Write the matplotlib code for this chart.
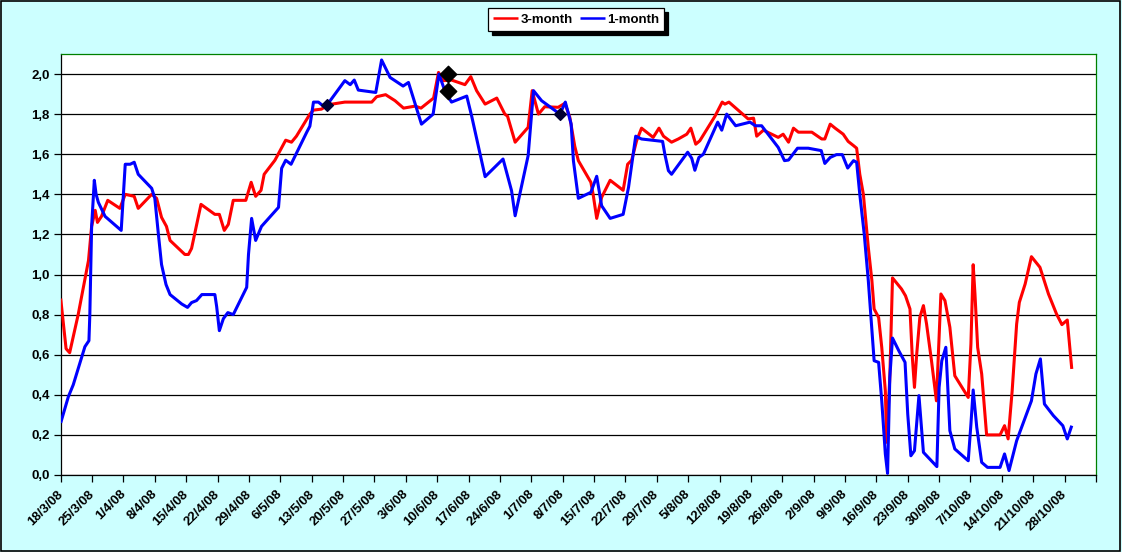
import matplotlib
matplotlib.use("Agg")
import matplotlib.pyplot as plt
from matplotlib.ticker import FuncFormatter
from matplotlib.patches import Rectangle
from matplotlib.transforms import ScaledTranslation

plt.rcParams['font.family'] = ['Liberation Sans', 'DejaVu Sans']
plt.rcParams['font.weight'] = 'bold'

# x values are days after 18/3/08
day_3m = [0.0, 1.2, 2.0, 3.9, 6.2, 6.9, 7.7, 8.2, 9.1, 10.5, 13.2, 14.4, 16.4, 17.3, 20.3,
          21.4, 22.5, 23.6, 24.4, 27.7, 28.5, 29.2, 31.3, 34.4, 35.4, 36.5, 37.4, 38.5, 41.3,
          42.5, 43.5, 44.7, 45.4, 47.8, 50.2, 51.5, 52.6, 55.6, 56.4, 58.2, 59.7, 63.4, 69.4,
          70.5, 72.5, 74.6, 76.5, 79.1, 80.4, 83.2, 84.3, 85.4, 87.2, 90.2, 91.5, 92.8, 94.7,
          97.3, 99.1, 99.7, 101.4, 104.3, 105.2, 106.6, 108.0, 111.0, 112.5, 113.6, 114.7,
          115.5, 118.3, 118.8, 119.6, 120.7, 122.6, 125.5, 126.5, 127.4, 128.5, 129.6, 132.2,
          133.5, 134.5, 136.3, 137.8, 139.7, 140.6, 141.7, 142.6, 146.0, 147.6, 148.2, 149.1,
          153.4, 154.6, 155.3, 156.8, 160.1, 161.2, 162.4, 163.5, 164.6, 167.6, 169.8, 170.5,
          171.7, 172.8, 174.6, 175.7, 176.9, 177.6, 178.3, 179.1, 180.2, 181.0, 181.5, 182.5,
          183.2, 184.0, 184.3, 185.0, 185.6, 187.6, 188.5, 189.5, 190.0, 190.5, 191.0, 191.7,
          192.5, 193.2, 194.3, 195.4, 196.4, 197.3, 198.4, 199.5, 202.5, 203.1, 203.6, 204.0,
          204.6, 205.5, 206.6, 209.6, 210.6, 211.4, 212.3, 213.3, 213.9, 215.2, 216.6, 218.5,
          220.4, 222.2, 223.4, 224.6, 225.6]
rate_3m = [0.88, 0.63, 0.61, 0.80, 1.07, 1.24, 1.32, 1.26, 1.29, 1.37, 1.33, 1.40, 1.39, 1.33, 1.40,
           1.38, 1.285, 1.24, 1.17, 1.10, 1.10, 1.13, 1.35, 1.30, 1.30, 1.22, 1.25, 1.37, 1.37,
           1.46, 1.39, 1.42, 1.50, 1.57, 1.67, 1.66, 1.69, 1.80, 1.82, 1.825, 1.847, 1.86, 1.86,
           1.887, 1.897, 1.867, 1.83, 1.84, 1.83, 1.88, 2.008, 1.967, 1.97, 1.947, 1.987, 1.917, 1.85,
           1.88, 1.80, 1.79, 1.66, 1.734, 1.917, 1.80, 1.837, 1.834, 1.854, 1.784, 1.64,
           1.568, 1.46, 1.40, 1.28, 1.385, 1.47, 1.42, 1.55, 1.57, 1.667, 1.73, 1.684,
           1.73, 1.69, 1.66, 1.676, 1.70, 1.73, 1.65, 1.667, 1.79, 1.86, 1.85, 1.86,
           1.776, 1.78, 1.69, 1.72, 1.684, 1.70, 1.66, 1.73, 1.71, 1.71, 1.676, 1.676,
           1.75, 1.73, 1.70, 1.664, 1.643, 1.63, 1.50, 1.40, 1.135, 0.97, 0.828, 0.786,
           0.637, 0.42, 0.163, 0.487, 0.983, 0.928, 0.894, 0.828, 0.595, 0.437, 0.603, 0.786,
           0.845, 0.753, 0.57, 0.37, 0.903, 0.87, 0.737, 0.495, 0.387, 0.653, 1.049, 0.903,
           0.637, 0.504, 0.20, 0.20, 0.246, 0.18, 0.42, 0.753, 0.861, 0.953, 1.089, 1.036,
           0.903, 0.803, 0.75, 0.773, 0.529]

day_1m = [0.0, 1.7, 2.8, 5.4, 6.3, 6.5, 6.9, 7.5, 7.9, 8.4, 9.9, 13.5, 14.4, 15.5, 16.4, 17.3,
          20.3, 21.0, 21.8, 22.5, 23.5, 24.4, 27.0, 28.3, 29.2, 30.3, 31.5, 34.4, 34.8, 35.4,
          36.3, 37.3, 38.5, 40.4, 41.5, 41.9, 42.6, 43.5, 44.8, 48.6, 49.3, 50.2, 51.4, 54.9,
          55.6, 56.4, 57.5, 58.6, 59.7, 63.4, 64.6, 65.5, 66.4, 70.3, 71.6, 73.5, 76.4, 77.6,
          80.5, 83.1, 84.4, 85.7, 87.2, 90.6, 91.7, 94.7, 98.7, 100.6, 101.4, 104.3, 105.5,
          107.3, 111.4, 112.6, 113.9, 114.4, 115.5, 118.3, 119.6, 120.7, 122.6, 125.5, 126.7,
          128.3, 129.6, 134.3, 134.8, 135.6, 136.3, 139.9, 140.8, 141.5, 142.4, 143.4, 146.6,
          147.5, 148.6, 150.6, 153.8, 155.0, 156.4, 160.1, 161.5, 162.4, 164.4, 166.8, 169.7,
          170.5, 171.7, 173.1, 174.4, 175.6, 176.9, 177.6, 178.3, 179.3, 180.2, 181.5, 182.5,
          183.2, 184.0, 184.5, 185.0, 185.6, 187.0, 188.4, 189.0, 189.7, 190.5, 191.5, 192.5,
          195.5, 196.0, 196.6, 197.5, 198.4, 199.5, 202.5, 203.1, 203.6, 204.4, 205.5, 206.8,
          209.6, 210.6, 211.6, 213.3, 216.6, 217.6, 218.6, 219.5, 221.5, 223.6, 224.6, 225.6]
rate_1m = [0.26, 0.39, 0.45, 0.64, 0.67, 0.80, 1.24, 1.47, 1.40, 1.36, 1.29, 1.22, 1.55, 1.55, 1.56, 1.50,
           1.43, 1.38, 1.20, 1.05, 0.95, 0.90, 0.853, 0.836, 0.86, 0.87, 0.90, 0.90, 0.84, 0.72,
           0.78, 0.81, 0.80, 0.886, 0.936, 1.10, 1.28, 1.17, 1.24, 1.335, 1.53, 1.57, 1.55, 1.71,
           1.74, 1.86, 1.86, 1.84, 1.854, 1.967, 1.947, 1.97, 1.92, 1.908, 2.07, 1.983, 1.94, 1.958,
           1.75, 1.80, 2.0, 1.917, 1.86, 1.89, 1.79, 1.488, 1.576, 1.418, 1.293, 1.593, 1.917,
           1.867, 1.80, 1.86, 1.75, 1.568, 1.38, 1.41, 1.49, 1.343, 1.28, 1.30, 1.435,
           1.69, 1.676, 1.664, 1.60, 1.518, 1.50, 1.61, 1.58, 1.52, 1.584, 1.60, 1.76,
           1.72, 1.80, 1.742, 1.76, 1.742, 1.742, 1.634, 1.568, 1.571, 1.63, 1.63, 1.618,
           1.554, 1.584, 1.598, 1.598, 1.531, 1.568, 1.56, 1.40, 1.20, 0.97, 0.57, 0.562,
           0.37, 0.105, 0.008, 0.487, 0.683, 0.62, 0.562, 0.304, 0.096, 0.121, 0.396, 0.113,
           0.042, 0.437, 0.57, 0.637, 0.221, 0.13, 0.071, 0.254, 0.424, 0.238, 0.063, 0.038,
           0.038, 0.105, 0.022, 0.171, 0.37, 0.504, 0.579, 0.354, 0.296, 0.246, 0.18, 0.246]

# diamond markers
big_mark_days = [86.5, 86.5]
big_mark_vals = [2.0, 1.917]
small_mark_days = [59.5, 111.5]
small_mark_vals = [1.847, 1.80]

tick_days = list(range(0, 232, 7))
tick_labels = ['18/3/08', '25/3/08', '1/4/08', '8/4/08', '15/4/08', '22/4/08', '29/4/08',
               '6/5/08', '13/5/08', '20/5/08', '27/5/08', '3/6/08', '10/6/08', '17/6/08',
               '24/6/08', '1/7/08', '8/7/08', '15/7/08', '22/7/08', '29/7/08', '5/8/08',
               '12/8/08', '19/8/08', '26/8/08', '2/9/08', '9/9/08', '16/9/08', '23/9/08',
               '30/9/08', '7/10/08', '14/10/08', '21/10/08', '28/10/08', '']
y_ticks = [0.0, 0.2, 0.4, 0.6, 0.8, 1.0, 1.2, 1.4, 1.6, 1.8, 2.0]

fig = plt.figure(figsize=(11.22, 5.52), dpi=100, facecolor='#CCFFFF')
ax = fig.add_axes([0.0541, 0.1395, 0.9227, 0.7627])
ax.set_facecolor('white')

ax.plot(day_3m, rate_3m, color='#FF0000', lw=2.2, label='3-month', zorder=3,
        solid_capstyle='butt')
ax.plot(day_1m, rate_1m, color='#0000FF', lw=2.2, label='1-month', zorder=3,
        solid_capstyle='butt')
ax.scatter(big_mark_days, big_mark_vals, marker='D', s=70, color='black', zorder=4)
ax.scatter(small_mark_days, small_mark_vals, marker='D', s=36, color='#000033', zorder=4)

ax.set_xlim(0, 231)
ax.set_ylim(0, 2.1)
ax.set_yticks(y_ticks)
ax.yaxis.set_major_formatter(FuncFormatter(lambda v, p: f"{v:.1f}".replace('.', ',')))
ax.set_xticks(tick_days)
ax.set_xticklabels(tick_labels, rotation=45, ha='right', rotation_mode='anchor')
ax.grid(axis='y', color='black', lw=0.9)
ax.set_axisbelow(True)

ax.tick_params(axis='both', direction='out', length=5, width=0.9, color='black',
               labelsize=9.5, pad=3)
shift = ScaledTranslation(-4 / 100, -2 / 100, fig.dpi_scale_trans)
for lbl in ax.get_xticklabels():
    lbl.set_fontweight('bold')
    lbl.set_transform(lbl.get_transform() + shift)
for lbl in ax.get_yticklabels():
    lbl.set_fontweight('bold')

ax.spines['left'].set_color('black')
ax.spines['bottom'].set_color('black')
ax.spines['top'].set_color('#008000')
ax.spines['right'].set_color('#008000')
for s in ax.spines.values():
    s.set_linewidth(0.9)

leg = fig.legend(loc='center', bbox_to_anchor=(0.5135, 0.9645), ncol=2, frameon=True,
                 fancybox=False, edgecolor='black', framealpha=1,
                 shadow={'color': 'black', 'alpha': 1, 'ox': 3, 'oy': -3},
                 prop={'weight': 'bold', 'size': 9.5},
                 handlelength=1.9, handletextpad=0.15, columnspacing=0.55,
                 borderpad=0.4, borderaxespad=0)
leg.get_frame().set_linewidth(0.9)
for h in leg.get_lines():
    h.set_linewidth(1.8)

fig.patches.append(Rectangle((0.001, 0.002), 0.997, 0.996, transform=fig.transFigure,
                             fill=False, edgecolor='black', lw=1.2))

fig.savefig('out.png', dpi=100, facecolor=fig.get_facecolor())
